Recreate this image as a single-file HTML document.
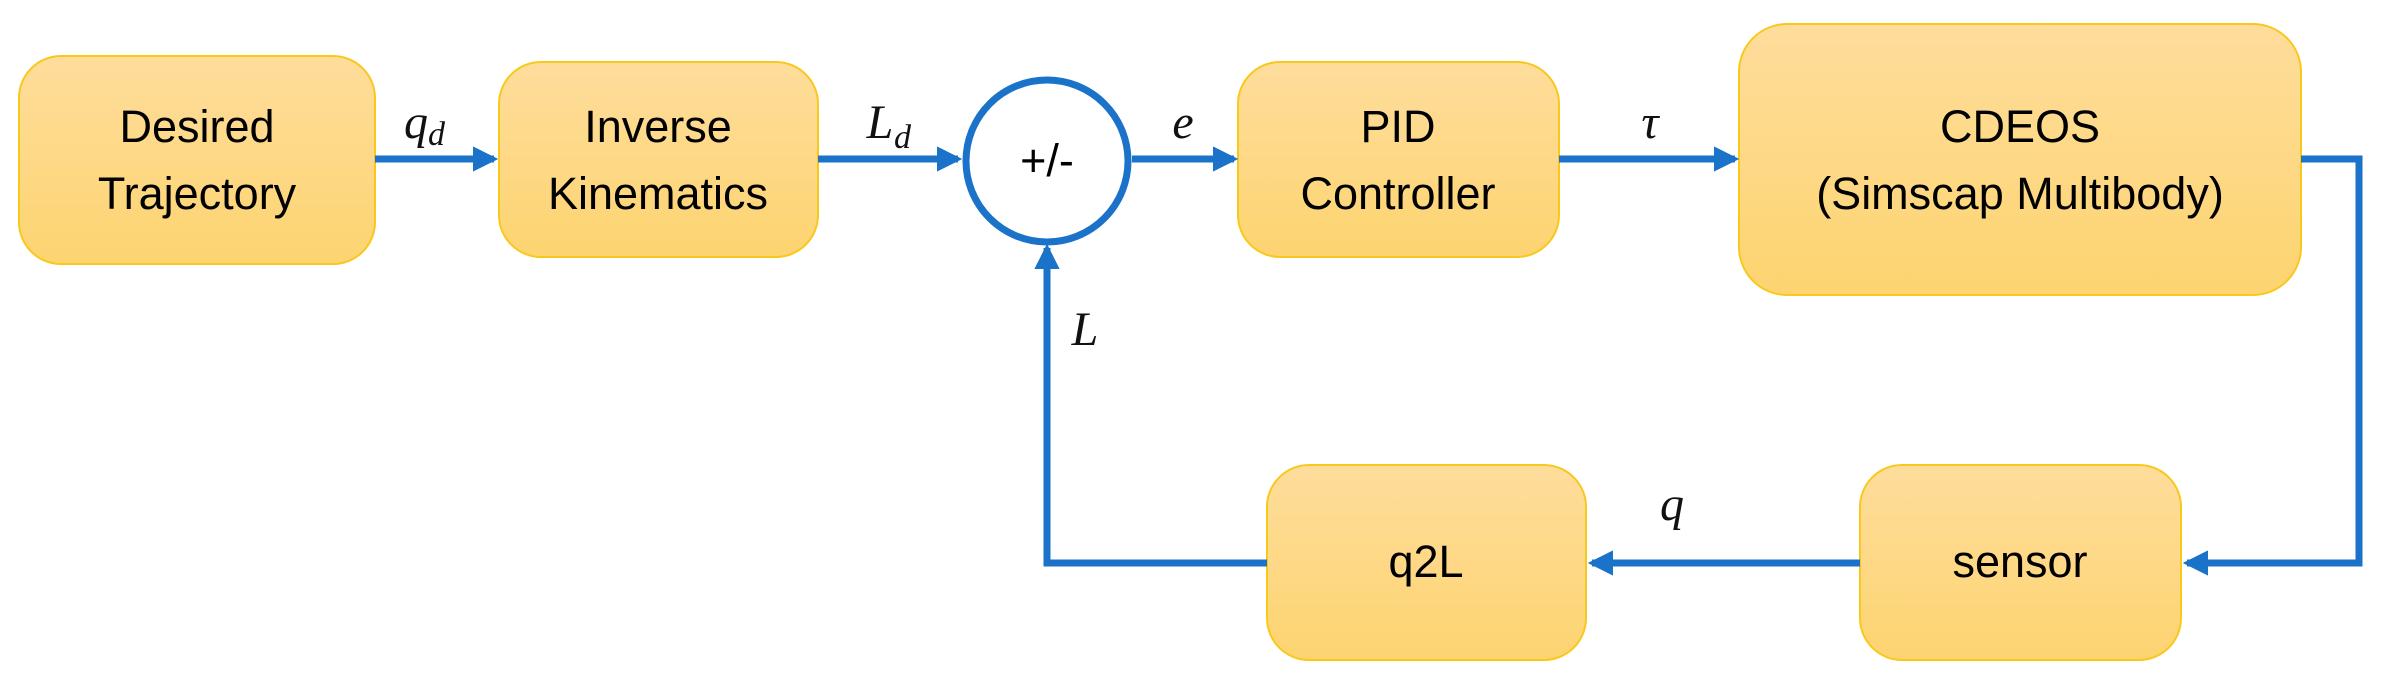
<!DOCTYPE html>
<html><head><meta charset="utf-8"><style>
html,body{margin:0;padding:0;background:#fff;}
svg{display:block;}
.t{font-family:"Liberation Sans",sans-serif;font-size:45px;fill:#000;text-anchor:middle;}
.m{font-family:"Liberation Serif",serif;font-style:italic;font-size:48px;fill:#111;text-anchor:middle;}
.s{font-family:"Liberation Serif",serif;font-style:italic;font-size:34px;fill:#111;}
</style></head><body>
<svg width="2390" height="695" viewBox="0 0 2390 695" xmlns="http://www.w3.org/2000/svg">
<defs>
<linearGradient id="g" x1="0" y1="0" x2="0" y2="1"><stop offset="0" stop-color="#fedd9c"/><stop offset="1" stop-color="#fdd470"/></linearGradient>
<marker id="a" markerWidth="3.6" markerHeight="3.6" refX="3" refY="1.8" orient="auto" markerUnits="strokeWidth"><path d="M0,0 L3.6,1.8 L0,3.6 Z" fill="#1a72c9"/></marker>
</defs>
<g fill="url(#g)" stroke="#f8c81c" stroke-width="2">
<rect x="19" y="56" width="356" height="208" rx="42"/>
<rect x="499" y="62" width="319" height="195" rx="42"/>
<rect x="1238" y="62" width="321" height="195" rx="42"/>
<rect x="1739" y="24" width="562" height="271" rx="48"/>
<rect x="1860" y="465" width="321" height="195" rx="42"/>
<rect x="1267" y="465" width="319" height="195" rx="42"/>
</g>
<circle cx="1047" cy="161" r="81" fill="#fff" stroke="#1a72c9" stroke-width="7"/>
<g stroke="#1a72c9" stroke-width="7" fill="none">
<line x1="375" y1="159" x2="494" y2="159" marker-end="url(#a)"/>
<line x1="818" y1="159" x2="958" y2="159" marker-end="url(#a)"/>
<line x1="1132" y1="159" x2="1234" y2="159" marker-end="url(#a)"/>
<line x1="1559" y1="159" x2="1735" y2="159" marker-end="url(#a)"/>
<polyline points="2301,159 2359,159 2359,563 2187,563" marker-end="url(#a)"/>
<line x1="1860" y1="563" x2="1592" y2="563" marker-end="url(#a)"/>
<polyline points="1267,563 1047,563 1047,248" marker-end="url(#a)"/>
</g>
<text class="t" x="197" y="142">Desired</text>
<text class="t" x="197" y="209">Trajectory</text>
<text class="t" x="658" y="142">Inverse</text>
<text class="t" x="658" y="209">Kinematics</text>
<text class="t" x="1047" y="176">+/-</text>
<text class="t" x="1398" y="142">PID</text>
<text class="t" x="1398" y="209">Controller</text>
<text class="t" x="2020" y="142">CDEOS</text>
<text class="t" x="2020" y="209">(Simscap Multibody)</text>
<text class="t" x="2020" y="577">sensor</text>
<text class="t" x="1426" y="577">q2L</text>
<text class="m" x="416" y="138">q</text><text class="s" x="428" y="145">d</text>
<text class="m" x="880" y="138">L</text><text class="s" x="894" y="148">d</text>
<text class="m" x="1183" y="138">e</text>
<text class="m" x="1650" y="138">τ</text>
<text class="m" x="1085" y="345">L</text>
<text class="m" x="1672" y="520">q</text>
</svg>
</body></html>
